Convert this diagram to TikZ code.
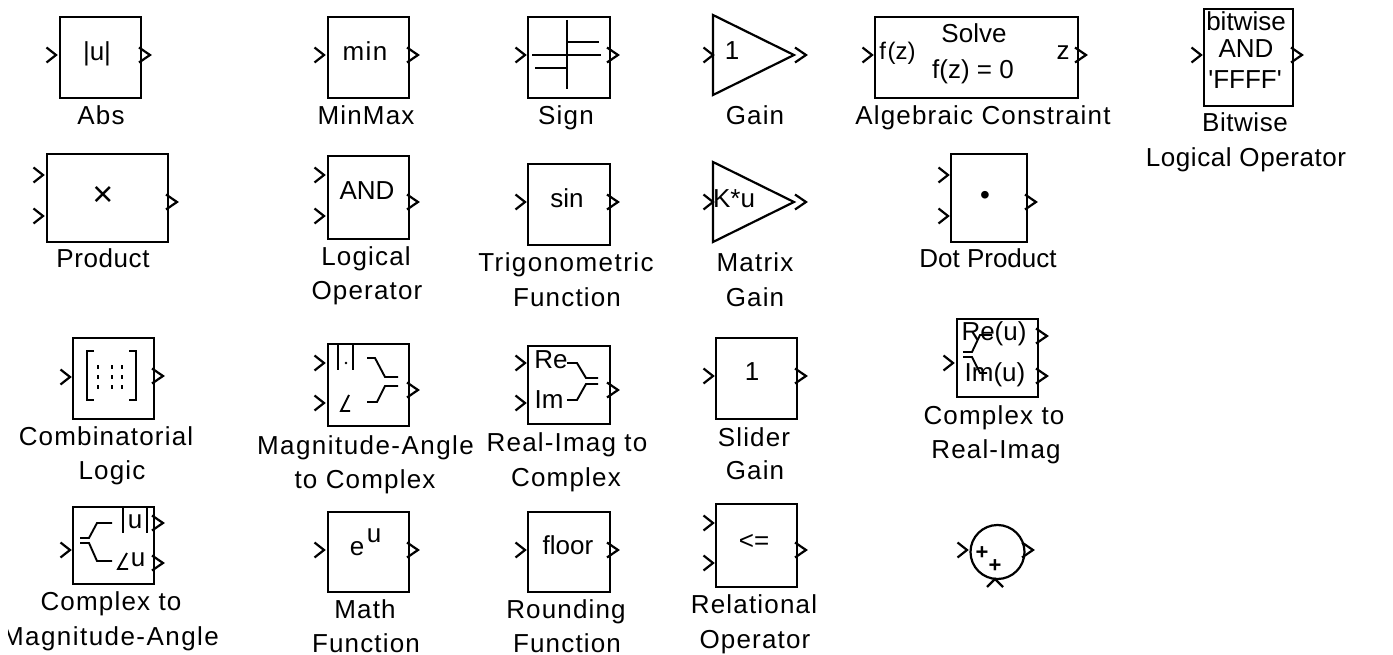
\documentclass[tikz,border=0pt]{standalone}
\usepackage{fontspec}
\setmainfont{Liberation Sans}
\newfontfamily\lblfont[LetterSpace=4.5]{Liberation Sans}
\newfontfamily\lblz{Liberation Sans}
\newfontfamily\lblb[LetterSpace=2.2]{Liberation Sans}
\newfontfamily\lblc[LetterSpace=5.6]{Liberation Sans}
\tikzset{
  x=1pt,y=-1pt,
  stroke/.style={line width=2.2pt,black,line cap=butt,line join=miter},
  blockbox/.style={stroke,draw,rectangle,inner sep=0pt,outer sep=0pt},
  lbl/.style={anchor=base,inner sep=0pt,font=\lblfont\fontsize{26}{30}\selectfont},
  inner/.style={anchor=base,inner sep=0pt,font=\fontsize{26}{30}\selectfont},
  glyph/.style={stroke,line width=1.9pt},
}
\newcommand\blockat[5]{\node[blockbox,minimum width={(#4-#2)*1pt},minimum height={(#5-#3)*1pt}] (#1) at ({(#2+#4)/2},{(#3+#5)/2}) {};}
\newcommand\ipin[2]{\draw[stroke] (#1,#2) ++(-9.5,-7.5) -- (#1,#2) -- ++(-9.5,7.5);}
\newcommand\opin[2]{\draw[stroke] (#1,#2) ++(-11,-7.5) -- (#1,#2) -- ++(-11,7.5);}
\newcommand\txt[4]{\node[inner] (#1) at (#2,#3) {#4};}
\newcommand\lab[4]{\node[lbl] (#1) at (#2,#3) {#4};}
\begin{document}
\begin{tikzpicture}
\useasboundingbox (0,0) rectangle (1393,655);
% Abs
\blockat{abs}{60}{17}{141}{98} \ipin{56}{55} \opin{150}{55}
\txt{abst}{97}{61}{|u|} \lab{absl}{101}{125}{Abs}
% MinMax
\blockat{minmax}{328}{17}{409}{98} \ipin{324}{55} \opin{418}{55}
\txt{mint}{365}{61}{\lblc min} \lab{minl}{366}{125}{MinMax}
% Sign
\blockat{sign}{528}{17}{610}{98} \ipin{525}{55} \opin{618}{55}
\draw[glyph] (567,20) -- (567,89);
\draw[glyph] (532,55) -- (601,55);
\draw[glyph] (567,42) -- (599,42);
\draw[glyph] (535,68) -- (567,68);
\lab{signl}{566}{125}{Sign}
% Gain
\draw[stroke] (713,15) -- (794,55) -- (713,95) -- cycle;
\ipin{713}{55} \opin{806}{55}
\txt{gaint}{732}{60}{1} \lab{gainl}{755}{125}{Gain}
% Algebraic Constraint
\blockat{alg}{875}{17}{1078}{98} \ipin{872}{55} \opin{1086}{55}
\node[inner,font=\fontsize{24}{28}\selectfont] (algf) at (897.5,60) {f\kern1.5pt(z)};
\txt{algs}{974}{43}{Solve} \txt{alge}{973}{79}{f(z) = 0} \txt{algz}{1063}{60}{z}
\lab{algl}{983}{125}{Algebraic Constraint}
% Bitwise
\blockat{bit}{1204}{9}{1293}{106} \ipin{1201}{55} \opin{1302}{55}
\txt{bita}{1246}{31}{bitwise} \txt{bitb}{1246}{58}{AND} \txt{bitc}{1245}{89}{\lblz 'FFFF'}
\lab{bitl}{1245}{132}{\lblb Bitwise} \lab{bitm}{1246}{167}{\lblb Logical Operator}
% Product
\blockat{prod}{47}{154}{168}{242} \ipin{43}{175} \ipin{43}{216} \opin{177}{202}
\node[inner,anchor=center,font=\fontsize{36}{38}\selectfont] (prodt) at (103,196.5) {×};
\lab{prodl}{103}{268}{\lblb Product}
% Logical Operator
\blockat{logic}{328}{156}{409}{239} \ipin{324}{175} \ipin{324}{216} \opin{418}{202}
\txt{logict}{367}{200}{AND}
\lab{logicl}{366}{266}{Logical} \lab{logicm}{367}{300}{Operator}
% Trigonometric
\blockat{trig}{528}{164}{610}{245} \ipin{525}{202} \opin{618}{202}
\txt{trigt}{567}{208}{sin}
\lab{trigl}{566}{272}{\lblc Trigonometric} \lab{trigm}{567}{306}{Function}
% Matrix Gain
\draw[stroke] (713,162) -- (794,202) -- (713,242) -- cycle;
\ipin{713}{202} \opin{806}{202}
\txt{mgt}{734}{208}{K*u}
\lab{mgl}{755}{272}{Matrix} \lab{mgm}{755}{306}{Gain}
% Dot Product
\blockat{dot}{951}{154}{1027}{242} \ipin{948}{175} \ipin{948}{216} \opin{1036}{202}
\node[inner,anchor=center,font=\fontsize{28}{30}\selectfont] (dott) at (985,198) {•};
\lab{dotl}{988}{268}{\lblz Dot Product}
% Combinatorial Logic
\blockat{comb}{73}{338}{154}{419} \ipin{70}{377} \opin{163}{376}
\draw[glyph] (94,351) -- (87,351) -- (87,400) -- (94,400);
\draw[glyph] (129,351) -- (136,351) -- (136,400) -- (129,400);
\foreach \cx in {98,112,122} \foreach \cy in {367,377,387}
  \draw[glyph] (\cx,\cy-2) -- (\cx,\cy+2);
\lab{combl}{106}{445}{Combinatorial} \lab{combm}{112}{479}{Logic}
% Magnitude-Angle to Complex
\blockat{mac}{328}{344}{409}{426} \ipin{324}{363} \ipin{324}{403} \opin{418}{390}
\draw[glyph] (338,345) -- (338,370);
\draw[glyph] (353,345) -- (353,370);
\fill (346,363) circle (1.3);
\draw[glyph] (349,395) -- (341,411) -- (350,411);
\draw[glyph] (367,358) -- (375,358) -- (385,377) -- (398,377);
\draw[glyph] (367,402) -- (377,402) -- (385,386) -- (398,386);
\lab{macl}{365.5}{454}{\lblc Magnitude-Angle} \lab{macm}{365}{488}{to Complex}
% Real-Imag to Complex
\blockat{ric}{528}{346}{610}{424} \ipin{525}{363} \ipin{525}{403} \opin{618}{390}
\txt{rica}{551}{368}{Re} \txt{ricb}{549}{408}{Im}
\draw[glyph] (567,363) -- (577,363) -- (586,378) -- (598,378);
\draw[glyph] (567,400) -- (577,400) -- (586,384) -- (598,384);
\lab{ricl}{567}{451}{Real-Imag to} \lab{ricm}{566}{486}{Complex}
% Slider Gain
\blockat{slider}{716}{338}{797}{419} \ipin{713}{376} \opin{806}{376}
\txt{slidert}{752}{380}{1}
\lab{sliderl}{754}{446}{Slider} \lab{sliderm}{755}{479}{Gain}
% Complex to Real-Imag
\blockat{cri}{957}{319}{1038}{397} \ipin{953}{363} \opin{1047}{336} \opin{1047}{376}
\draw[glyph] (963,352) -- (972,352) -- (980,335) -- (992,335);
\draw[glyph] (963,357) -- (972,357) -- (980,373) -- (987,373);
\txt{cria}{994}{341}{Re(u)} \txt{crib}{995}{381}{Im(u)}
\lab{cril}{994}{424}{Complex to} \lab{crim}{996}{458}{Real-Imag}
% Complex to Magnitude-Angle
\blockat{cma}{73}{507}{154}{584} \ipin{70}{550} \opin{163}{523} \opin{163}{563}
\draw[glyph] (80,538) -- (89,538) -- (97,523) -- (112,523);
\draw[glyph] (80,543) -- (89,543) -- (97,561) -- (112,561);
\draw[glyph] (123,508) -- (123,533);
\draw[glyph] (147,508) -- (147,533);
\txt{cmaa}{135}{528}{u}
\draw[glyph] (127,553) -- (118,569) -- (128,569);
\txt{cmab}{138}{566}{u}
\lab{cmal}{111}{610}{Complex to}
\begin{scope}
  \clip (8,620) rectangle (300,655);
  \lab{cmam}{110.5}{645}{\lblc Magnitude-Angle}
\end{scope}
% Math Function
\blockat{math}{328}{512}{409}{592} \ipin{324}{550} \opin{418}{550}
\txt{mathe}{357}{555}{e} \txt{mathu}{374}{542}{u}
\lab{mathl}{365}{618}{Math} \lab{mathm}{366}{652}{Function}
% Rounding Function
\blockat{round}{528}{512}{610}{592} \ipin{525}{550} \opin{618}{550}
\txt{roundt}{568}{554}{floor}
\lab{roundl}{566}{618}{Rounding} \lab{roundm}{567}{652}{Function}
% Relational Operator
\blockat{rel}{716}{504}{797}{587} \ipin{713}{523} \ipin{713}{563} \opin{806}{550}
\txt{relt}{754}{549}{<=}
\lab{rell}{754}{613}{Relational} \lab{relm}{755}{648}{Operator}
% Sum
\node[stroke,draw,circle,inner sep=0pt,outer sep=0pt,minimum size=54pt] (sum) at (997.5,552) {};
\ipin{967}{550} \opin{1033}{550}
\draw[stroke] (987,587) -- (995,579) -- (1003,587);
\node[inner,anchor=center,font=\bfseries\fontsize{22}{24}\selectfont] (suma) at (982,553) {+};
\node[inner,anchor=center,font=\bfseries\fontsize{22}{24}\selectfont] (sumb) at (995,566) {+};
\end{tikzpicture}
\end{document}
